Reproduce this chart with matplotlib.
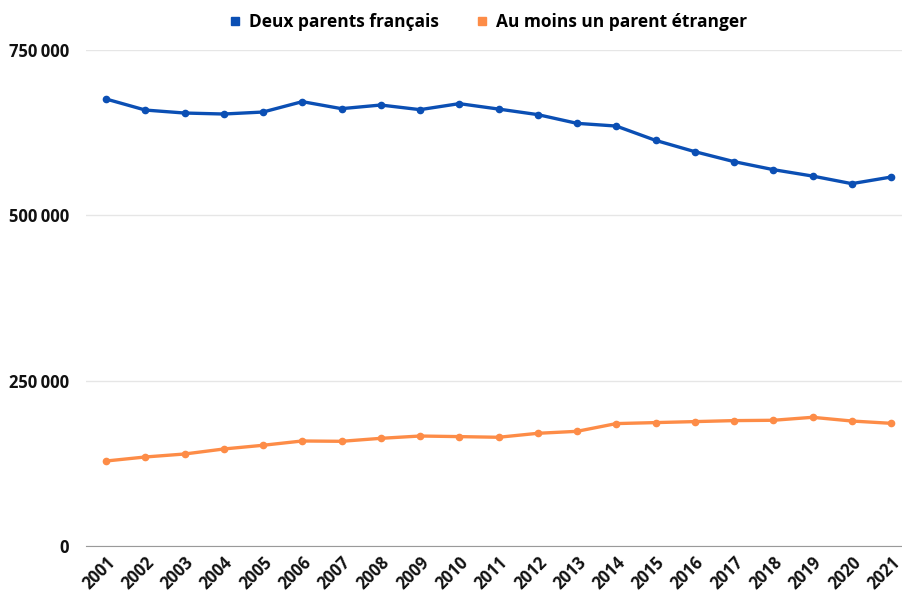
import matplotlib
matplotlib.use("Agg")
import matplotlib.pyplot as plt
from matplotlib.ticker import FuncFormatter

plt.rcParams["font.family"] = ["Open Sans", "DejaVu Sans"]

# Data
years = [str(y) for y in range(2001, 2022)]
deux_parents_francais = [
    675900, 659200, 654700, 653200, 656200, 671900, 661300, 666800, 659800, 668900,
    660700, 652300, 639100, 635000, 613400, 596300, 581200, 569100, 559400, 547900,
    557900,
]
parent_etranger = [
    128500, 134600, 139100, 146700, 152300, 158800, 158300, 162800, 166300, 165400,
    164400, 170400, 173400, 185100, 186600, 188100, 189600, 190100, 194600, 189000,
    185500,
]
y_ticks = [0, 250000, 500000, 750000]

blue = "#0b4fb4"
orange = "#fd8c47"

fig = plt.figure(figsize=(9.02, 5.97), dpi=100)
ax = fig.add_axes([86 / 902, 1 - 546 / 597, (902 - 86) / 902, (546 - 50) / 597])

x = range(len(years))
ax.plot(x, deux_parents_francais, color=blue, linewidth=2.4, marker="o",
        markersize=4.5, label="Deux parents français", zorder=3)
ax.plot(x, parent_etranger, color=orange, linewidth=2.4, marker="o",
        markersize=4.5, label="Au moins un parent étranger", zorder=3)

ax.set_xlim(-0.51, len(years) - 1 + 0.28)
ax.set_ylim(0, 750000)
ax.set_yticks(y_ticks)
ax.yaxis.set_major_formatter(
    FuncFormatter(lambda v, p: f"{int(v):,}".replace(",", "\u2009"))
)
ax.set_xticks(list(x))
ax.set_xticklabels(years, rotation=45, ha="right", rotation_mode="anchor")

for lbl in ax.get_xticklabels() + ax.get_yticklabels():
    lbl.set_fontweight("bold")
    lbl.set_fontsize(12)
    lbl.set_color("#111111")

ax.grid(axis="y", color="#e6e6e6", linewidth=1)
ax.set_axisbelow(True)
for side in ["top", "right", "left"]:
    ax.spines[side].set_visible(False)
ax.spines["bottom"].set_color("#9a9a9a")
ax.tick_params(axis="both", length=0)
ax.tick_params(axis="y", pad=12)
ax.tick_params(axis="x", pad=5)

handles = [
    plt.Line2D([], [], marker="s", linestyle="none", color=blue, markersize=6),
    plt.Line2D([], [], marker="s", linestyle="none", color=orange, markersize=6),
]
fig.legend(handles, ["Deux parents français", "Au moins un parent étranger"],
           loc="center", bbox_to_anchor=(487 / 902, 1 - 22 / 597), ncol=2,
           frameon=False, prop={"weight": "bold", "size": 12.5},
           handletextpad=0.3, columnspacing=2.0, handlelength=1)

fig.savefig("out.png", dpi=100)
